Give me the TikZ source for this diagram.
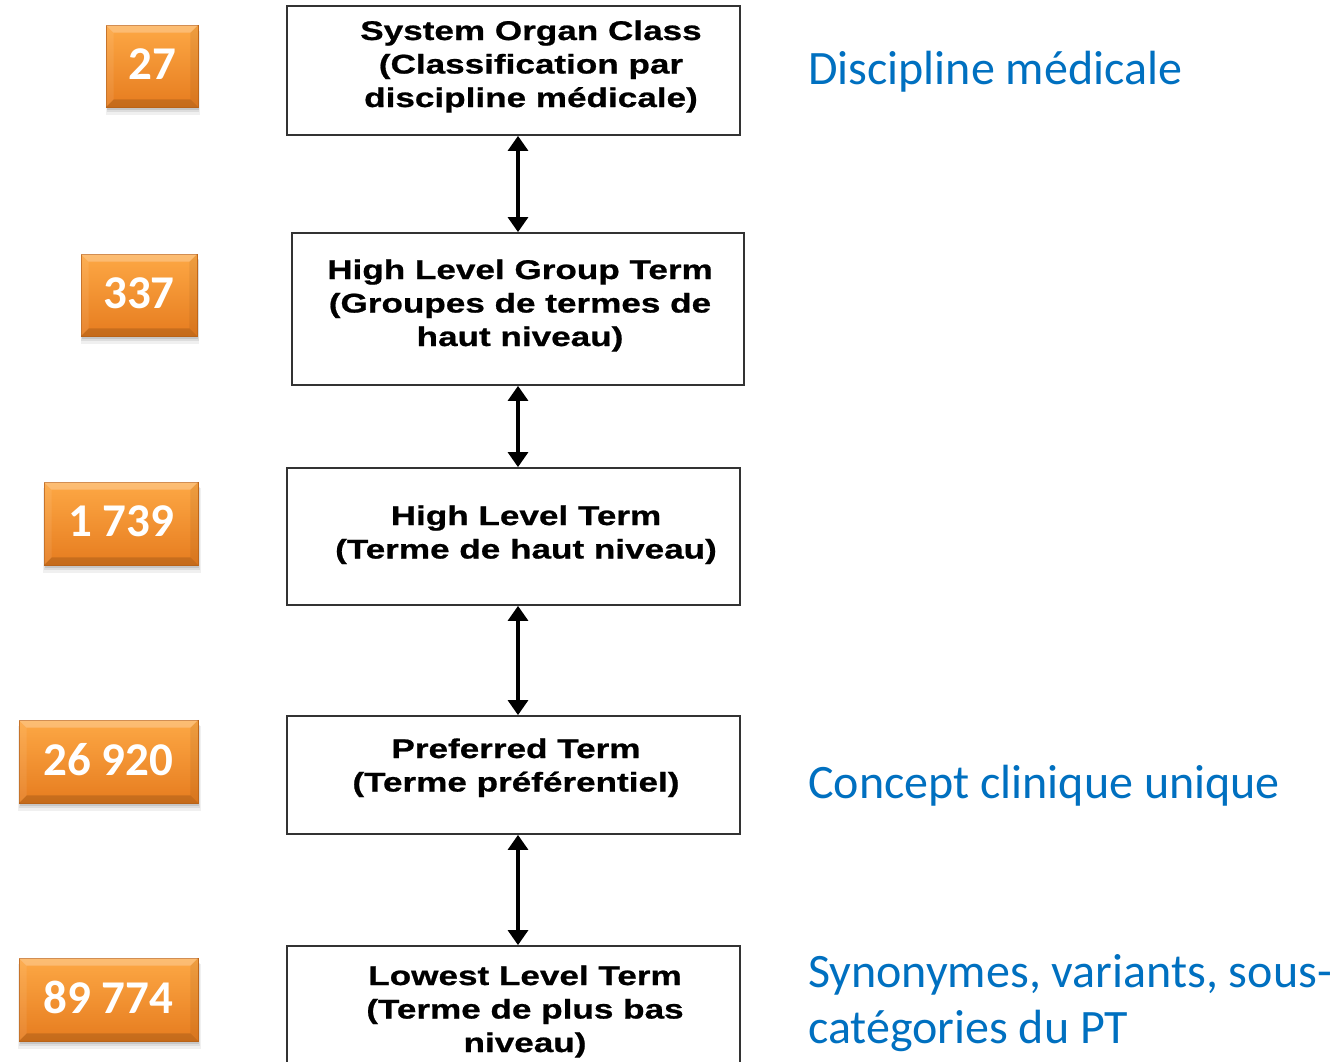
\documentclass[tikz,border=0pt]{standalone}
\usepackage{fontspec}
\usetikzlibrary{arrows.meta,shadows}
\newfontfamily\boxfont[FakeStretch=1.3,FakeBold=0.8]{Liberation Sans}
\newfontfamily\calfont{Carlito}
\definecolor{bluetxt}{HTML}{0070C0}
\definecolor{orgtop}{HTML}{FDA845}
\definecolor{orgbot}{HTML}{E67C1F}
\definecolor{boxline}{HTML}{333333}
\newcommand\mlines[1]{\begin{tabular}[t]{@{}c@{}}#1\end{tabular}}
\newcommand\llines[1]{\begin{tabular}[t]{@{}l@{}}#1\end{tabular}}
\newcommand\bevel[1]{%
  \fill[white,opacity=.25] (#1.north west) -- (#1.north east) -- ([xshift=-8pt,yshift=-8pt]#1.north east) -- ([xshift=8pt,yshift=-8pt]#1.north west) -- cycle;
  \fill[black,opacity=.14] (#1.south west) -- (#1.south east) -- ([xshift=-8pt,yshift=8pt]#1.south east) -- ([xshift=8pt,yshift=8pt]#1.south west) -- cycle;
  \fill[black,opacity=.06] (#1.north east) -- (#1.south east) -- ([xshift=-8pt,yshift=8pt]#1.south east) -- ([xshift=-8pt,yshift=-8pt]#1.north east) -- cycle;
  \fill[white,opacity=.08] (#1.north west) -- (#1.south west) -- ([xshift=8pt,yshift=8pt]#1.south west) -- ([xshift=8pt,yshift=-8pt]#1.north west) -- cycle;
}
\begin{document}
\begin{tikzpicture}[x=1pt,y=-1pt,
  level/.style={draw=boxline, line width=1.8pt, rectangle, inner sep=0pt},
  lbl/.style={anchor=base, inner sep=0pt, font=\boxfont\bfseries\fontsize{27}{33.5}\selectfont},
  count/.style={rectangle, inner sep=0pt, top color=orgtop, bottom color=orgbot,
    draw=orgbot!85!black, line width=0.6pt,
    general shadow={shadow xshift=1pt, shadow yshift=-7pt, shadow scale=1.02, fill=black, opacity=.06},
    general shadow={shadow xshift=1pt, shadow yshift=-5pt, shadow scale=1.01, fill=black, opacity=.08},
    general shadow={shadow xshift=1pt, shadow yshift=-3pt, fill=black, opacity=.10}},
  num/.style={inner sep=0pt, text=white, font=\calfont\bfseries\fontsize{47}{50}\selectfont},
  note/.style={anchor=base west, inner sep=0pt, text=bluetxt, font=\calfont\fontsize{48}{56}\selectfont},
  link/.style={line width=3.2pt, draw=black, {Triangle[width=20pt,length=15pt]}-{Triangle[width=20pt,length=15pt]}}
]
\useasboundingbox[fill=white] (0,0) rectangle (1341,1061);

% level boxes
\node[level, minimum width=453pt, minimum height=129pt] (soc)  at (513.5,70.5) {};
\node[level, minimum width=452pt, minimum height=152pt] (hlgt) at (518,309) {};
\node[level, minimum width=453pt, minimum height=137pt] (hlt)  at (513.5,536.5) {};
\node[level, minimum width=453pt, minimum height=118pt] (pt)   at (513.5,775) {};
\node[level, minimum width=453pt, minimum height=130pt] (llt)  at (513.5,1011) {};

% box texts
\node[lbl] (socT)  at (531,40)   {\mlines{System Organ Class\\(Classification par\\discipline médicale)}};
\node[lbl] (hlgtT) at (520,279)  {\mlines{High Level Group Term\\(Groupes de termes de\\haut niveau)}};
\node[lbl] (hltT)  at (526,525)  {\mlines{High Level Term\\(Terme de haut niveau)}};
\node[lbl] (ptT)   at (516,758)  {\mlines{Preferred Term\\(Terme préférentiel)}};
\node[lbl] (lltT)  at (525,985)  {\mlines{Lowest Level Term\\(Terme de plus bas\\niveau)}};

% connectors
\coordinate (ax) at (518,0);
\draw[link] (soc.south -| ax) -- (hlgt.north -| ax);
\draw[link] (hlgt.south -| ax) -- (hlt.north -| ax);
\draw[link] (hlt.south -| ax) -- (pt.north -| ax);
\draw[link] (pt.south -| ax) -- (llt.north -| ax);

% orange counters
\node[count, minimum width=92pt,  minimum height=82pt] (c1) at (152,66) {};
\node[count, minimum width=116pt, minimum height=82pt] (c2) at (139,295) {};
\node[count, minimum width=154pt, minimum height=83pt] (c3) at (121,523.5) {};
\node[count, minimum width=179pt, minimum height=83pt] (c4) at (108.5,761.5) {};
\node[count, minimum width=179pt, minimum height=83pt] (c5) at (108.5,999.5) {};
\bevel{c1}\bevel{c2}\bevel{c3}\bevel{c4}\bevel{c5}
\node[num] (n1) at ([yshift=2pt]c1.center) {27};
\node[num] (n2) at ([yshift=2pt]c2.center) {337};
\node[num] (n3) at ([yshift=2pt]c3.center) {1 739};
\node[num] (n4) at ([yshift=2pt]c4.center) {26 920};
\node[num] (n5) at ([yshift=2pt]c5.center) {89 774};

% blue notes
\node[note] (d1) at (808,84)  {Discipline médicale};
\node[note] (d2) at (808,798) {Concept clinique unique};
\node[note] (d3) at (808,987) {\llines{Synonymes, variants, sous-\\catégories du PT}};
\end{tikzpicture}
\end{document}
